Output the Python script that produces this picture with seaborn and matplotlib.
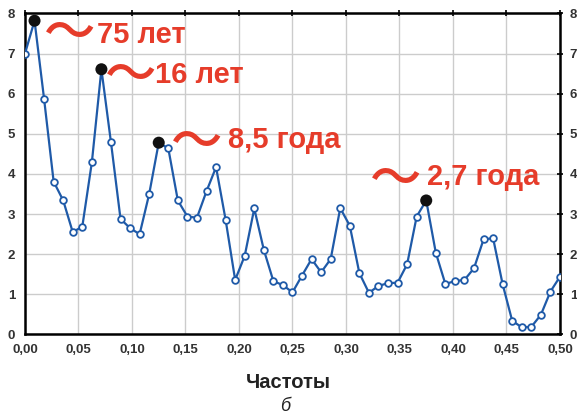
import numpy as np
import pandas as pd
import matplotlib
matplotlib.use("Agg")
import matplotlib.pyplot as plt
import seaborn as sns

# ---- data ----
n_harm = [k for k in range(57)]
freq = [k / 112 for k in n_harm]
power = [7.00, 7.82, 5.87, 3.81, 3.34, 2.55, 2.69, 4.29, 6.61, 4.79,
         2.88, 2.65, 2.50, 3.50, 4.78, 4.64, 3.34, 2.94, 2.91, 3.57,
         4.17, 2.86, 1.36, 1.96, 3.14, 2.11, 1.33, 1.23, 1.05, 1.47,
         1.88, 1.55, 1.88, 3.15, 2.71, 1.53, 1.04, 1.21, 1.28, 1.29,
         1.75, 2.94, 3.34, 2.04, 1.26, 1.33, 1.36, 1.65, 2.37, 2.40,
         1.25, 0.34, 0.18, 0.19, 0.49, 1.07, 1.44]
peak_idx = [1, 8, 14, 42]
peak_labels = ["75 лет", "16 лет", "8,5 года", "2,7 года"]
label_xy = [(0.0673, 7.26), (0.1215, 6.26), (0.1897, 4.64), (0.3757, 3.72)]
tilde_xy = [(0.042, 7.48), (0.099, 6.44), (0.160, 4.77), (0.3467, 3.85)]
xticks = [0.0, 0.05, 0.10, 0.15, 0.20, 0.25, 0.30, 0.35, 0.40, 0.45, 0.50]
xtick_labels = ["0,00", "0,05", "0,10", "0,15", "0,20", "0,25", "0,30",
                "0,35", "0,40", "0,45", "0,50"]
yticks = [0, 1, 2, 3, 4, 5, 6, 7, 8]

df = pd.DataFrame({"freq": freq, "power": power})
peaks = df.iloc[peak_idx]

sns.set_style("white")
plt.rcParams['font.family'] = ['Liberation Sans', 'DejaVu Sans']

blue = "#1f5aa8"
red = "#e63c2a"

fig = plt.figure(figsize=(5.77, 4.19), dpi=100)
ax = fig.add_axes([0.0433, 0.2017, 0.9272, 0.7661])

ax.grid(True, color="#cccccc", lw=1.0)
ax.set_axisbelow(True)

sns.lineplot(data=df, x="freq", y="power", ax=ax, color=blue, lw=1.6,
             marker="o", markersize=4.8, markerfacecolor="white",
             markeredgecolor=blue, markeredgewidth=1.3, zorder=3)
sns.scatterplot(data=peaks, x="freq", y="power", ax=ax, color="#111111",
                s=75, edgecolor="none", zorder=4)

for (lx, ly), (tx, ty), lab in zip(label_xy, tilde_xy, peak_labels):
    ax.text(lx, ly, lab, color=red, fontsize=21, fontweight="bold",
            ha="left", va="baseline", zorder=5)
    ax.text(tx, ty, "〜", color=red, fontsize=37, fontweight="medium",
            family="Noto Sans CJK JP", ha="center", va="center", zorder=5)

ax.set_xlim(0, 0.5)
ax.set_ylim(0, 8)
ax.set_xticks(xticks)
ax.set_xticklabels(xtick_labels)
ax.set_yticks(yticks)

for s in ax.spines.values():
    s.set_visible(True)
    s.set_color("black")
    s.set_linewidth(1.8)

ax.tick_params(axis="both", which="both", direction="inout", length=4,
               width=1.2, colors="black", labelsize=9.5, labelcolor="#333333",
               top=True, right=True, labelright=True, labelleft=True, pad=5)
for t in ax.get_xticklabels() + ax.get_yticklabels():
    t.set_fontweight("bold")
for t in ax.yaxis.get_ticklabels(which="both"):
    t.set_fontweight("bold")

ax.set_xlabel("")
ax.set_ylabel("")
fig.text(0.500, 1 - 382 / 419, "Частоты", fontsize=14.5, fontweight="bold",
         color="#222222", ha="center", va="center")
fig.text(0.495, 1 - 406 / 419, "б", fontsize=13, style="italic",
         color="#222222", ha="center", va="center")

fig.savefig("out.png", dpi=100)
